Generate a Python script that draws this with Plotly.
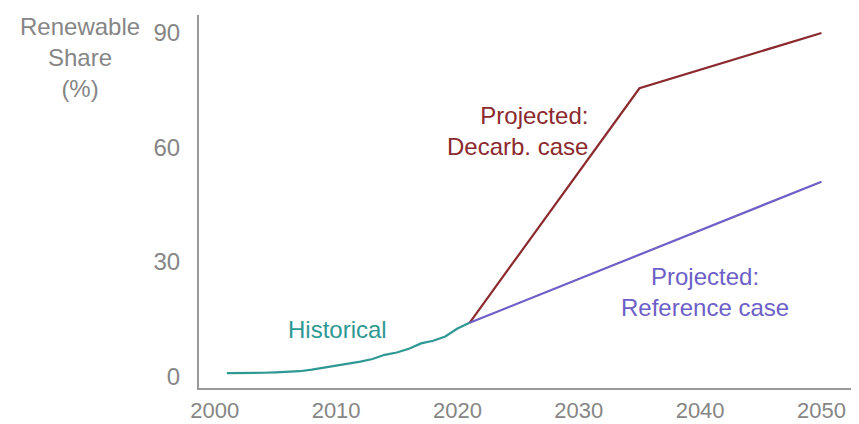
import plotly.graph_objects as go

# Data
hist_years = list(range(2001, 2022))
hist_share = [0.8, 0.8, 0.9, 0.9, 1.0, 1.1, 1.3, 1.7, 2.2, 2.7, 3.2, 3.8, 4.5, 5.6,
              6.2, 7.2, 8.6, 9.3, 10.4, 12.5, 14.0]
decarb_years = [2021, 2035, 2050]
decarb_share = [14.0, 75.5, 90.0]
ref_years = [2021, 2050]
ref_share = [14.0, 51.0]
x_ticks = [2000, 2010, 2020, 2030, 2040, 2050]
y_ticks = [0, 30, 60, 90]

TEAL = "#2e9893"
RED = "#8b2a2e"
PURPLE = "#6c60c8"
GRAY = "#868686"
FONT = "Liberation Sans, Arial, sans-serif"

fig = go.Figure()
fig.add_trace(go.Scatter(x=hist_years, y=hist_share, mode="lines",
                         line=dict(color=TEAL, width=2.2), showlegend=False))
fig.add_trace(go.Scatter(x=decarb_years, y=decarb_share, mode="lines",
                         line=dict(color=RED, width=2.2), showlegend=False))
fig.add_trace(go.Scatter(x=ref_years, y=ref_share, mode="lines",
                         line=dict(color=PURPLE, width=2.2), showlegend=False))

# page body has an 8px default margin, so the figure is sized to fit the window
fig.update_layout(
    width=851, height=416,
    margin=dict(l=191, r=6, t=7, b=36),
    paper_bgcolor="white", plot_bgcolor="white",
    font=dict(family=FONT, size=24, color=GRAY),
    xaxis=dict(range=[1998.7, 2052.6], tickvals=x_ticks, showgrid=False,
               zeroline=False, showline=True, linecolor="#999999", linewidth=2,
               ticks="", ticklabelstandoff=2, automargin=False,
               tickfont=dict(size=22, color=GRAY)),
    yaxis=dict(range=[-3.1, 94.7], tickvals=y_ticks, showgrid=False,
               zeroline=False, showline=True, linecolor="#999999", linewidth=2,
               ticks="", ticklabelstandoff=12, automargin=False,
               tickfont=dict(size=24, color=GRAY)),
)

fig.add_annotation(xref="paper", yref="paper", x=-0.182, y=0.885,
                   text="Renewable<br>Share<br>(%)", showarrow=False,
                   xanchor="center", yanchor="middle",
                   font=dict(size=24, color=GRAY, family=FONT))
fig.add_annotation(x=2010.1, y=12.3, text="Historical", showarrow=False,
                   xanchor="center", yanchor="middle",
                   font=dict(size=24, color=TEAL, family=FONT))
fig.add_annotation(x=2030.9, y=64.2, text="Projected:<br>Decarb. case", showarrow=False,
                   xanchor="right", yanchor="middle", align="right",
                   font=dict(size=24, color=RED, family=FONT))
fig.add_annotation(x=2040.4, y=22.1, text="Projected:<br>Reference case", showarrow=False,
                   xanchor="center", yanchor="middle", align="center",
                   font=dict(size=24, color=PURPLE, family=FONT))

fig.write_html("out.html")
